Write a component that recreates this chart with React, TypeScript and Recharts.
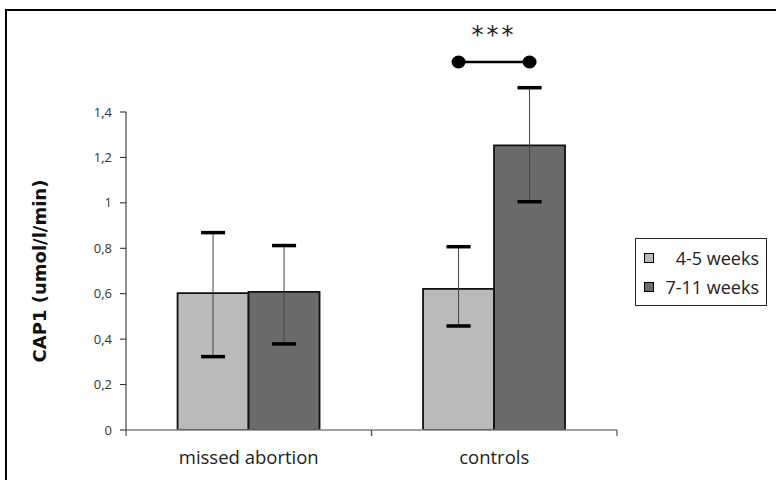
import { BarChart, Bar, XAxis, YAxis, ErrorBar, Legend, LabelList } from "recharts";

const categories = ["missed abortion", "controls"];
const seriesNames = ["4-5 weeks", "7-11 weeks"];

// 4-5 weeks: mean, lower and upper end of the error bar
const earlyMean = [0.603, 0.621];
const earlyLow = [0.323, 0.458];
const earlyHigh = [0.869, 0.807];

// 7-11 weeks
const lateMean = [0.608, 1.253];
const lateLow = [0.379, 1.005];
const lateHigh = [0.812, 1.507];

const yTicks = [0, 0.2, 0.4, 0.6, 0.8, 1, 1.2, 1.4];

// significance marker over "controls"
const sigLevel = 1.62;
const sigTextLevel = 1.74;
const sigLabel = "***";

const LIGHT = "#bababa";
const DARK = "#6b6b6b";
const TICK_FONT = "'Open Sans', 'Noto Sans', sans-serif";

const data = categories.map((name, i) => ({
    name,
    early: earlyMean[i],
    earlyErr: [earlyMean[i] - earlyLow[i], earlyHigh[i] - earlyMean[i]],
    late: lateMean[i],
    lateErr: [lateMean[i] - lateLow[i], lateHigh[i] - lateMean[i]],
}));

const capsFor = (means: number[], lows: number[], highs: number[], withSig: boolean) => (props: any) => {
    const vb = props.viewBox || props;
    const { x, y, width, height } = vb;
    const i = props.index;
    const v = means[i];
    if (!v || height == null) return null;
    const k = height / v;
    const base = y + height;
    const cx = x + width / 2;
    const yHi = base - highs[i] * k;
    const yLo = base - lows[i] * k;
    return (
        <g>
            <rect x={cx - 12} y={yHi - 1.75} width={24} height={3.5} fill="#000" />
            <rect x={cx - 12} y={yLo - 1.75} width={24} height={3.5} fill="#000" />
            {withSig && i === 1 && (
                <g>
                    <line x1={cx - width} x2={cx} y1={base - sigLevel * k} y2={base - sigLevel * k} stroke="#000" strokeWidth={2.5} />
                    <ellipse cx={cx - width} cy={base - sigLevel * k} rx={7} ry={6.5} fill="#000" />
                    <ellipse cx={cx} cy={base - sigLevel * k} rx={7} ry={6.5} fill="#000" />
                    <text x={cx - width / 2} y={base - sigTextLevel * k} textAnchor="middle" dominantBaseline="central"
                        fontSize={24} letterSpacing={3} fontFamily="'DejaVu Sans', sans-serif" fill="#222">{sigLabel}</text>
                </g>
            )}
        </g>
    );
};

const XTick = (props: any) => {
    const { x, y, payload } = props;
    const off = payload.offset || 0;
    return (
        <g>
            <line x1={x - off} x2={x - off} y1={y - 8} y2={y - 2} stroke="#555" strokeWidth={1.2} />
            <line x1={x + off} x2={x + off} y1={y - 8} y2={y - 2} stroke="#555" strokeWidth={1.2} />
            <text x={x} y={y + 26} textAnchor="middle" fontSize={18.5} fontFamily={TICK_FONT} fill="#222">{payload.value}</text>
        </g>
    );
};

const LegendBox = () => (
    <div style={{ border: "1px solid #222", padding: "4px 7px 4px 8px", background: "#fff", fontFamily: TICK_FONT, fontSize: 18, color: "#222", boxSizing: "border-box", width: 132 }}>
        {seriesNames.map((n, i) => (
            <div key={n} style={{ display: "flex", alignItems: "center", justifyContent: "space-between", height: 29 }}>
                <span style={{ width: 8, height: 8, border: "1.5px solid #000", background: i === 0 ? LIGHT : DARK, display: "inline-block" }} />
                <span>{n}</span>
            </div>
        ))}
    </div>
);

export default function App() {
    return (
        <div style={{ position: "absolute", left: 0, top: 0, width: 776, height: 480, background: "#fff" }}>
            <div style={{ position: "absolute", left: 5, top: 9, width: 771, height: 471, borderTop: "2px solid #000", borderLeft: "2px solid #000" }} />
            <div style={{ position: "absolute", left: 0, top: 0 }}>
                <BarChart width={776} height={480} data={data} barGap={0} barCategoryGap="21%"
                    margin={{ top: 112, right: 159, left: 26, bottom: 10 }}>
                    <XAxis dataKey="name" height={40} axisLine={{ stroke: "#808080", strokeWidth: 1.5 }} tickLine={false}
                        tickSize={6} tick={<XTick />} interval={0} />
                    <YAxis width={100} domain={[0, 1.4]} ticks={yTicks} allowDataOverflow
                        axisLine={{ stroke: "#222" }} tickLine={{ stroke: "#222" }} tickSize={6} tickMargin={8}
                        tick={{ fontSize: 13, fill: "#333", fontFamily: TICK_FONT }}
                        tickFormatter={(v: number) => String(v).replace(".", ",")}
                        label={{ value: "CAP1 (umol/l/min)", angle: -90, position: "insideLeft", offset: 14,
                            style: { textAnchor: "middle", fontSize: 18, fontWeight: "bold", fill: "#111", fontFamily: "'DejaVu Sans', sans-serif" } }} />
                    <Legend layout="vertical" verticalAlign="middle" align="center" content={<LegendBox />}
                        wrapperStyle={{ left: 635, top: 238, width: 132 }} />
                    <Bar dataKey="early" name={seriesNames[0]} fill={LIGHT} stroke="#111" strokeWidth={1.8} isAnimationActive={false}>
                        <ErrorBar dataKey="earlyErr" width={12} stroke="#444" strokeWidth={1} direction="y" />
                        <LabelList dataKey="early" content={capsFor(earlyMean, earlyLow, earlyHigh, false)} />
                    </Bar>
                    <Bar dataKey="late" name={seriesNames[1]} fill={DARK} stroke="#111" strokeWidth={1.8} isAnimationActive={false}>
                        <ErrorBar dataKey="lateErr" width={12} stroke="#444" strokeWidth={1} direction="y" />
                        <LabelList dataKey="late" content={capsFor(lateMean, lateLow, lateHigh, true)} />
                    </Bar>
                </BarChart>
            </div>
        </div>
    );
}
